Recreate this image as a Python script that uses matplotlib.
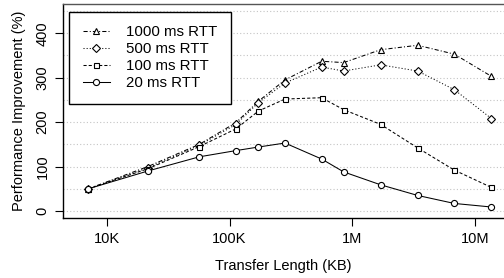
import numpy as np
import matplotlib
matplotlib.use("Agg")
import matplotlib.pyplot as plt
from matplotlib.legend_handler import HandlerLine2D
from matplotlib.ticker import FixedLocator, NullLocator

plt.rcParams['font.family'] = ['Liberation Sans', 'DejaVu Sans']

transfer_kb = [7.08e3, 2.16e4, 5.68e4, 1.13e5, 1.72e5, 2.83e5, 5.63e5, 8.51e5,
               1.70e6, 3.41e6, 6.78e6, 1.36e7]
rtt_1000 = [50, 100, 150, 199, 247, 295, 337, 334, 363, 373, 353, 303]
rtt_500 = [50, 97, 148, 195, 244, 288, 324, 315, 329, 315, 273, 208]
rtt_100 = [50, 95, 145, 185, 225, 252, 255, 228, 195, 142, 92, 53]
rtt_20 = [50, 90, 122, 136, 144, 153, 117, 88, 59, 35, 17, 9]

xtick_vals = [1e4, 1e5, 1e6, 1e7]
xtick_labels = ['10K', '100K', '1M', '10M']
ytick_vals = [0, 100, 200, 300, 400]

series = [
    ('1000 ms RTT', rtt_1000, (0, (4, 2, 1, 2)), '^', 5.0),
    ('500 ms RTT', rtt_500, (0, (1, 2)), 'D', 3.8),
    ('100 ms RTT', rtt_100, (0, (3, 2)), 's', 3.6),
    ('20 ms RTT', rtt_20, '-', 'o', 4.4),
]

fig = plt.figure(figsize=(5.04, 2.78), dpi=100)
ax = fig.add_axes([63.3/504, 1-218.3/278, 1-63.3/504, (218.3-3.5)/278])

for g in np.arange(0, 451, 50):
    ax.axhline(g, color='#c4c4c4', lw=0.8, ls=(0, (1, 2)), zorder=0)

handles = []
for label, vals, ls, mk, ms in series:
    h, = ax.plot(transfer_kb, vals, color='black', lw=0.75, ls=ls, marker=mk,
                 ms=ms, mfc='white', mec='black', mew=0.8, label=label)
    handles.append(h)

ax.set_xscale('log')
ax.set_xlim(4.43e3, 1.72e7)
ax.set_ylim(-16.4, 467)
ax.xaxis.set_major_locator(FixedLocator(xtick_vals))
ax.xaxis.set_minor_locator(NullLocator())
ax.set_xticklabels(xtick_labels)
ax.set_yticks(ytick_vals)
ax.set_yticklabels([str(v) for v in ytick_vals], rotation=90, va='center')
ax.tick_params(axis='both', labelsize=10.5, length=6, width=0.8, color='black', pad=4)

ax.spines['right'].set_visible(False)
ax.spines['top'].set_color('#555555')
for s in ['left', 'bottom', 'top']:
    ax.spines[s].set_linewidth(1.0)

ax.set_xlabel('Transfer Length (KB)', fontsize=10.5, labelpad=9)
ax.set_ylabel('Performance Improvement (%)', fontsize=10.5, labelpad=7)


class EndMarkerHandler(HandlerLine2D):
    def get_xdata(self, legend, xdescent, ydescent, width, height, fontsize):
        xdata = np.array([-xdescent, -xdescent + width])
        return xdata, np.array([-xdescent + width])


leg = ax.legend(handles=handles, loc='upper left', bbox_to_anchor=(0.0136, 0.962),
                borderaxespad=0, fontsize=10.8, frameon=True, fancybox=False,
                edgecolor='black', framealpha=1, handlelength=1.8, handletextpad=1.1,
                labelspacing=0.2, borderpad=0.9,
                handler_map={h: EndMarkerHandler(numpoints=1) for h in handles})
leg.get_frame().set_linewidth(1.0)

fig.savefig('out.png', dpi=100)
